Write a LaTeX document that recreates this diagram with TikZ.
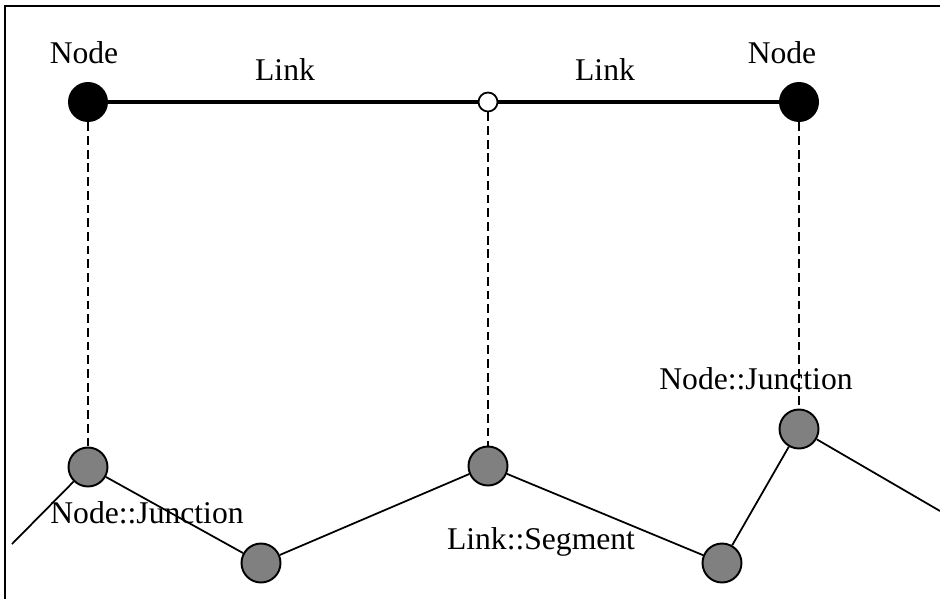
\documentclass[tikz,border=0pt]{standalone}
\usepackage{fontspec}
\setmainfont{Liberation Serif}
\usepackage{tikz}
\definecolor{jctgray}{HTML}{808080}

\begin{document}
\begin{tikzpicture}[x=0.02cm, y=-0.02cm,
  netnode/.style={circle, fill=black, inner sep=0pt, minimum size=0.8cm},
  midpt/.style={circle, draw, fill=white, line width=1pt, inner sep=0pt, minimum size=0.38cm},
  jct/.style={circle, draw, fill=jctgray, line width=1.1pt, inner sep=0pt, minimum size=0.78cm},
  lbl/.style={anchor=base, inner sep=0pt, font=\fontsize{18}{20}\selectfont},
  vlink/.style={dash pattern=on 5pt off 2.8pt, line width=1pt}]
  \useasboundingbox (0,0) rectangle (940,599);
  \draw[line width=1.2pt] (5,599) -- (5,6) -- (940,6);
  % upper level
  \node[netnode] (nL) at (88,102) {};
  \node[midpt] (via) at (488,102) {};
  \node[netnode] (nR) at (799,102) {};
  \node[lbl] (nLlbl) at (84,63) {Node};
  \node[lbl] (nRlbl) at (782,63) {Node};
  \node[lbl] (lkA) at (285,80) {Link};
  \node[lbl] (lkB) at (605,80) {Link};
  \draw[line width=2.5pt] (nL) -- (via) -- (nR);
  % lower level
  \coordinate (endL) at (12,544);
  \coordinate (endR) at (940,511);
  \node[jct] (jA) at (88,467) {};
  \node[jct] (jB) at (261,563) {};
  \node[jct] (jC) at (488,466) {};
  \node[jct] (jD) at (722,563) {};
  \node[jct] (jE) at (799,429) {};
  \draw[line width=1pt] (endL) -- (jA) -- (jB) -- (jC) -- (jD) -- (jE) -- (endR);
  \node[lbl] (jAlbl) at (147,523) {Node::Junction};
  \node[lbl] (jElbl) at (756,389) {Node::Junction};
  \node[lbl] (sglbl) at (541,549) {Link::Segment};
  \draw[vlink] (nL) -- (jA);
  \draw[vlink] (via) -- (jC);
  \draw[vlink] (nR) -- (jE);
\end{tikzpicture}
\end{document}
